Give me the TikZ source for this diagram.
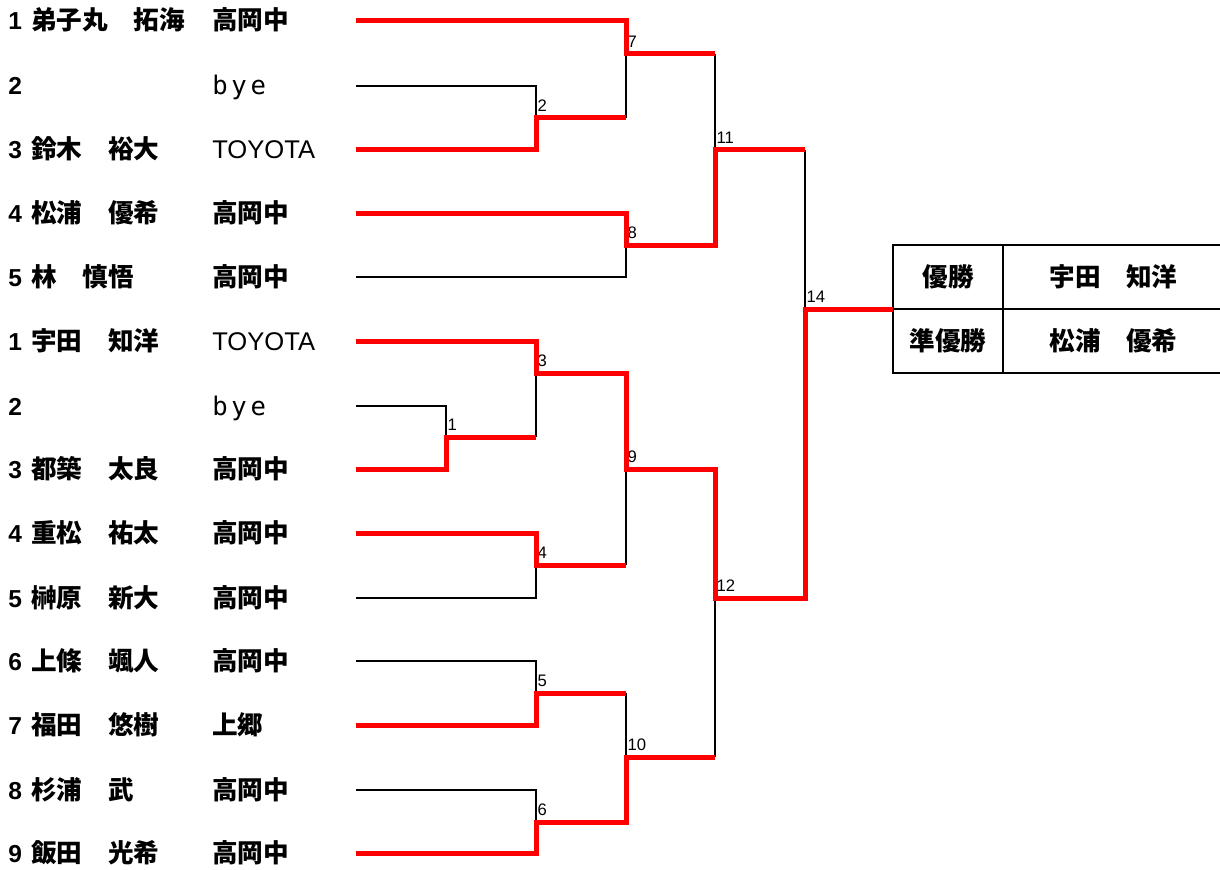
\documentclass[tikz,border=0pt]{standalone}
\usepackage{fontspec}
\setmainfont{Liberation Sans}
\newfontfamily\cjk{Noto Sans CJK JP}
\newfontfamily\byefont{DejaVu Sans Mono}
\definecolor{winner}{RGB}{255, 0, 0}
\newcommand{\jpb}[1]{{\cjk\bfseries #1}}
\newcommand{\byetxt}{{\byefont b\hspace{2.8pt}y\hspace{2.8pt}e}}

\begin{document}
\begin{tikzpicture}[x=0.75pt, y=-0.75pt,
        win/.style={winner, line width=3.75pt},
        lose/.style={black, line width=1.1pt},
        entry/.style={anchor=base west, inner sep=0pt, font=\fontsize{18.4}{20}\selectfont},
        jpentry/.style={entry, font=\fontsize{19.2}{20}\selectfont},
        matchno/.style={anchor=south west, inner sep=1pt, yshift=3.8pt, font=\fontsize{12.5}{13}\selectfont},
        cell/.style={draw, line width=1.1pt, minimum height=48pt, inner sep=0pt, outer sep=0pt,
            font=\cjk\bfseries\fontsize{19.2}{20}\selectfont}]
        \useasboundingbox (0,0) rectangle (1220,870);
        \clip (0,0) rectangle (1220,870);

        % 選手
        \foreach \i/\y/\num/\name/\school in {
            1/21/1/弟子丸　拓海/\jpb{高岡中},
            2/86/2//\byetxt,
            3/150/3/鈴木　裕大/TOYOTA,
            4/213/4/松浦　優希/\jpb{高岡中},
            5/277/5/林　慎悟/\jpb{高岡中},
            6/341/1/宇田　知洋/TOYOTA,
            7/406/2//\byetxt,
            8/469/3/都築　太良/\jpb{高岡中},
            9/533/4/重松　祐太/\jpb{高岡中},
            10/598/5/榊原　新大/\jpb{高岡中},
            11/661/6/上條　颯人/\jpb{高岡中},
            12/725/7/福田　悠樹/\jpb{上郷},
            13/790/8/杉浦　武/\jpb{高岡中},
            14/853/9/飯田　光希/\jpb{高岡中}} {
            \node[entry] (num\i) at (8, {\y+9}) {\bfseries\num};
            \node[jpentry] (name\i) at (31, {\y+9}) {\jpb{\name}};
            \node[jpentry] (sch\i) at (212, {\y+9}) {\school};
            \coordinate (r\i) at (356, \y);
        }

        % 対戦
        \foreach \m/\x/\y in {1/446/437, 2/536/118, 3/536/373, 4/536/565, 5/536/693,
            6/536/822, 7/626/54, 8/626/245, 9/626/469, 10/626/757,
            11/715/150, 12/715/598, 14/805/309} {
            \coordinate (m\m) at (\x, \y);
            \node[matchno] (no\m) at (m\m) {\m};
        }

        % 結果表
        \node[cell, minimum width=82.5pt] (tw) at (948, 277) {優勝};
        \node[cell, minimum width=165.75pt] (twn) at (1113.5, 277) {宇田　知洋};
        \node[cell, minimum width=82.5pt] (tr) at (948, 341) {準優勝};
        \node[cell, minimum width=165.75pt] (trn) at (1113.5, 341) {松浦　優希};

        % 敗者
        \draw[lose] (r2) -| (m2);
        \draw[lose] (r5) -| (m8);
        \draw[lose] (r7) -| (m1);
        \draw[lose] (r10) -| (m4);
        \draw[lose] (r11) -| (m5);
        \draw[lose] (r13) -| (m6);
        \draw[lose] (m2 -| m7) -- (m7);
        \draw[lose] (m7 -| m11) -- (m11);
        \draw[lose] (m1 -| m3) -- (m3);
        \draw[lose] (m4 -| m9) -- (m9);
        \draw[lose] (m5 -| m10) -- (m10);
        \draw[lose] (m10 -| m12) -- (m12);
        \draw[lose] (m11 -| m14) -- (m14);

        % 勝ち上がり
        \draw[win] (r1) -| (m7) -- (m7 -| m11);
        \draw[win] (r3) -| (m2) -- (m2 -| m7);
        \draw[win] (r4) -| (m8) -| (m11) -- (m11 -| m14);
        \draw[win] (r8) -| (m1) -- (m1 -| m3);
        \draw[win] (r9) -| (m4) -- (m4 -| m9);
        \draw[win] (r12) -| (m5) -- (m5 -| m10);
        \draw[win] (r14) -| (m6) -| (m10) -- (m10 -| m12);
        \draw[win] (r6) -| (m3) -| (m9) -| (m12) -| (m14) -- (tw.south west);
    \end{tikzpicture}
\end{document}
